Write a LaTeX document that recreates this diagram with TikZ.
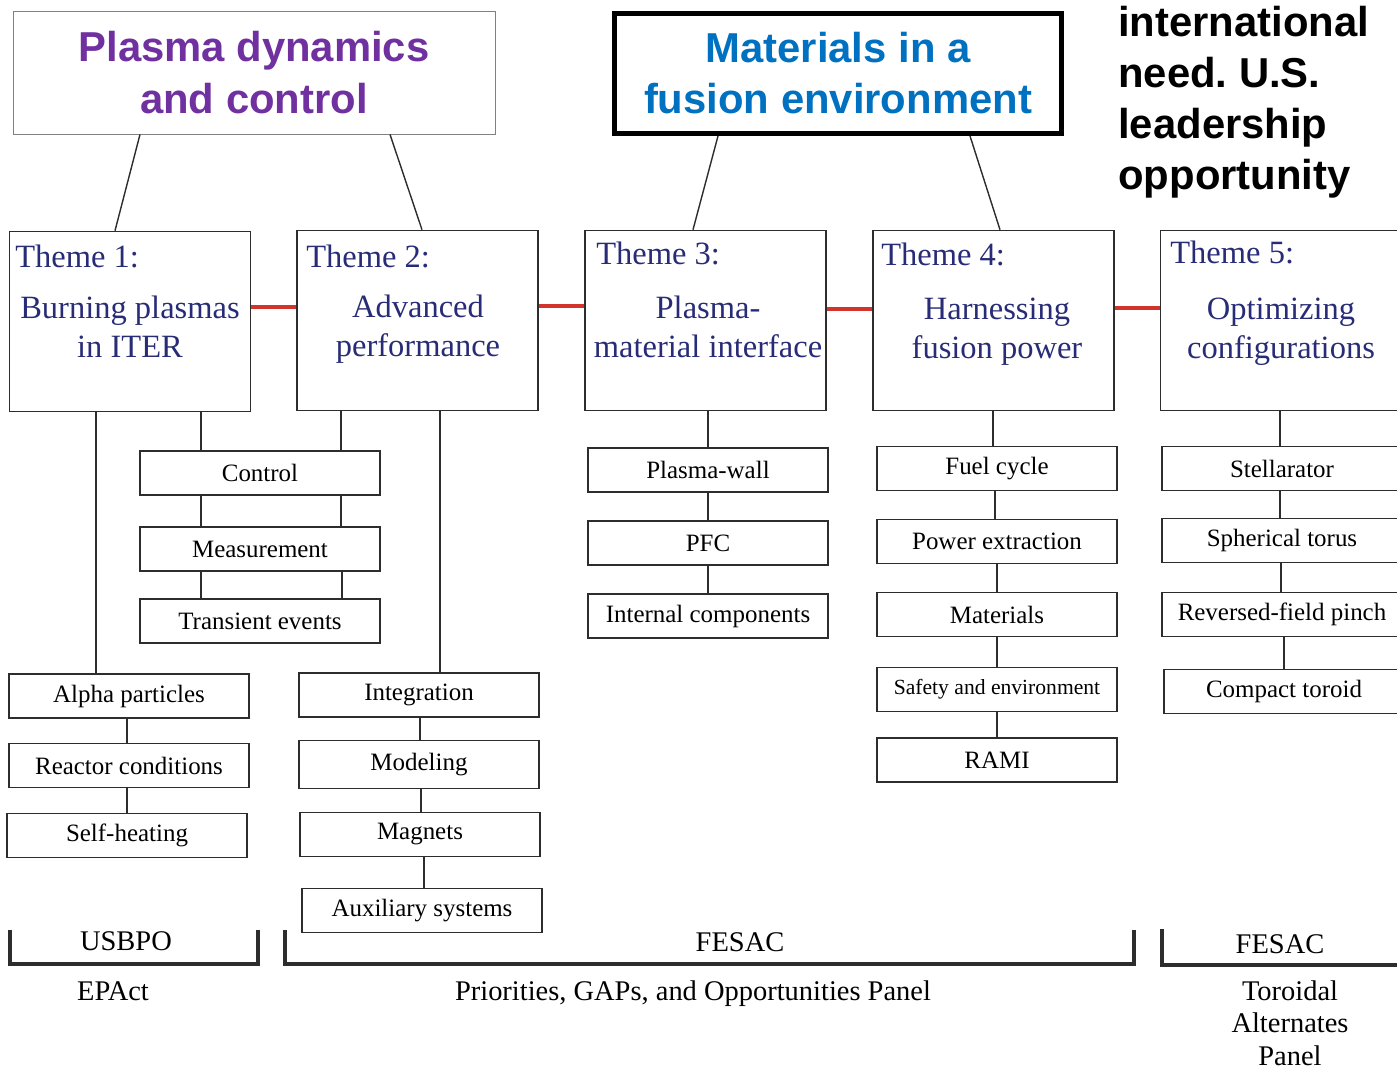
\documentclass[tikz,border=0pt]{standalone}
\usepackage{fontspec}
\setmainfont{Liberation Serif}
\newfontfamily\headfont{Liberation Sans}
\frenchspacing

\definecolor{purplehead}{RGB}{112,48,160}
\definecolor{bluehead}{RGB}{0,112,192}
\definecolor{themenavy}{RGB}{40,44,118}
\definecolor{linkred}{RGB}{210,52,44}
\definecolor{boxline}{RGB}{45,45,45}

\tikzset{
  themebox/.style={draw=boxline, line width=0.9pt, minimum width=4.82cm, minimum height=3.6cm, inner sep=0},
  themehead/.style={text=themenavy, font=\fontsize{18.5}{22}\selectfont, anchor=west, inner sep=0},
  themetext/.style={text=themenavy, font=\fontsize{18.5}{22}\selectfont, align=center, inner sep=0},
  itembox/.style={draw=boxline, line width=0.9pt, minimum width=4.8cm, minimum height=0.88cm, inner sep=0, font=\fontsize{14.2}{17}\selectfont},
  link/.style={draw=boxline, line width=0.8pt},
  redlink/.style={draw=linkred, line width=2.2pt},
  bracket/.style={draw=boxline, line width=2pt},
  panel/.style={font=\fontsize{16.2}{18.4}\selectfont, align=center, inner sep=0},
}

\begin{document}
\begin{tikzpicture}[x=0.02cm, y=-0.02cm]
\useasboundingbox (0,0) rectangle (1397,1069);

% headings on top
\node [draw=gray, line width=0.5pt, minimum width=9.64cm, minimum height=2.46cm, align=center, text=purplehead, font=\headfont\bfseries\fontsize{23.8}{29.5}\selectfont] (pdc) at (254,72.5) {Plasma dynamics\\and control} ;
\node [draw, line width=2.8pt, minimum width=8.94cm, minimum height=2.4cm, align=center, text=bluehead, font=\headfont\bfseries\fontsize{23.8}{29}\selectfont] (mfe) at (838,73.5) {Materials in a\\fusion environment} ;
\node [anchor=north west, align=left, inner sep=0, font=\headfont\bfseries\fontsize{23.8}{29}\selectfont] (need) at (1118,6) {international\\need. U.S.\\leadership\\opportunity} ;

% themes
\node [themebox] (t1) at (130,321.5) {} ;
\node [themebox] (t2) at (417.5,320.5) {} ;
\node [themebox] (t3) at (705.5,320.5) {} ;
\node [themebox] (t4) at (993.5,320.5) {} ;
\node [themebox] (t5) at (1281,320.5) {} ;

\node [themehead] (t1head) at (15,256) {Theme 1:} ;
\node [themehead] (t2head) at (306,256) {Theme 2:} ;
\node [themehead] (t3head) at (596,253) {Theme 3:} ;
\node [themehead] (t4head) at (881,254) {Theme 4:} ;
\node [themehead] (t5head) at (1170,252) {Theme 5:} ;

\node [themetext] (t1text) at (130,327) {Burning plasmas\\in ITER} ;
\node [themetext] (t2text) at (418,329) {Advanced\\performance} ;
\node [themetext] (t3text) at (708,327) {Plasma-\\material interface} ;
\node [themetext] (t4text) at (997,332) {Harnessing\\fusion power} ;
\node [themetext] (t5text) at (1281,332) {Optimizing\\configurations} ;

\draw [link] (pdc.south -| 140,0) to (t1.north -| 115,0) ;
\draw [link] (pdc.south -| 390,0) to (t2.north -| 422,0) ;
\draw [link] (mfe.south -| 718,0) to (t3.north -| 693,0) ;
\draw [link] (mfe.south -| 970,0) to (t4.north -| 1000,0) ;

\draw [redlink] (t1.east |- 0,307) to (t2.west |- 0,307) ;
\draw [redlink] (t2.east |- 0,306) to (t3.west |- 0,306) ;
\draw [redlink] (t3.east |- 0,309) to (t4.west |- 0,309) ;
\draw [redlink] (t4.east |- 0,308) to (t5.west |- 0,308) ;

% themes 1 and 2
\node [itembox] (ctrl) at (260,473) {Control} ;
\node [itembox] (meas) at (260,549) {Measurement} ;
\node [itembox] (trans) at (260,621) {Transient events} ;
\node [itembox] (alpha) at (129,696) {Alpha particles} ;
\node [itembox] (reactor) at (129,765.5) {Reactor conditions} ;
\node [itembox] (selfheat) at (127,835.5) {Self-heating} ;
\node [itembox] (integ) at (419,695) {Integration} ;
\node [itembox, minimum height=0.96cm] (model) at (419,764.5) {Modeling} ;
\node [itembox] (magnets) at (420,834.5) {Magnets} ;
\node [itembox] (aux) at (422,910.5) {Auxiliary systems} ;

\draw [link] (t1.south -| 201,0) to (ctrl.north -| 201,0) ;
\draw [link] (t2.south -| 341,0) to (ctrl.north -| 341,0) ;
\draw [link] (ctrl.south -| 201,0) to (meas.north -| 201,0) ;
\draw [link] (ctrl.south -| 341,0) to (meas.north -| 341,0) ;
\draw [link] (meas.south -| 201,0) to (trans.north -| 201,0) ;
\draw [link] (meas.south -| 342,0) to (trans.north -| 342,0) ;
\draw [link] (t1.south -| 96,0) to (alpha.north -| 96,0) ;
\draw [link] (alpha.south -| 127,0) to (reactor.north -| 127,0) ;
\draw [link] (reactor.south -| 127,0) to (selfheat.north -| 127,0) ;
\draw [link] (t2.south -| 440,0) to (integ.north -| 440,0) ;
\draw [link] (integ.south -| 420,0) to (model.north -| 420,0) ;
\draw [link] (model.south -| 421,0) to (magnets.north -| 421,0) ;
\draw [link] (magnets.south -| 424,0) to (aux.north -| 424,0) ;

% theme 3
\node [itembox] (pwall) at (708,470) {Plasma-wall} ;
\node [itembox] (pfc) at (708,543) {PFC} ;
\node [itembox] (intcomp) at (708,616) {Internal components} ;

\draw [link] (t3.south -| 708,0) to (pwall.north -| 708,0) ;
\draw [link] (pwall.south -| 708,0) to (pfc.north -| 708,0) ;
\draw [link] (pfc.south -| 708,0) to (intcomp.north -| 708,0) ;

% theme 4
\node [itembox] (fuel) at (997,468.5) {Fuel cycle} ;
\node [itembox] (power) at (997,541.5) {Power extraction} ;
\node [itembox] (mater) at (997,614.5) {Materials} ;
\node [itembox, font=\fontsize{12.3}{15}\selectfont] (safety) at (997,689.5) {Safety and environment} ;
\node [itembox] (rami) at (997,760) {RAMI} ;

\draw [link] (t4.south -| 993,0) to (fuel.north -| 993,0) ;
\draw [link] (fuel.south -| 995,0) to (power.north -| 995,0) ;
\draw [link] (power.south -| 997,0) to (mater.north -| 997,0) ;
\draw [link] (mater.south -| 997,0) to (safety.north -| 997,0) ;
\draw [link] (safety.south -| 997,0) to (rami.north -| 997,0) ;

% theme 5
\node [itembox] (stell) at (1282,468.5) {Stellarator} ;
\node [itembox] (sphtor) at (1282,540.5) {Spherical torus} ;
\node [itembox] (rfp) at (1282,614.5) {Reversed-field pinch} ;
\node [itembox] (ctor) at (1284,691.5) {Compact toroid} ;

\draw [link] (t5.south -| 1280,0) to (stell.north -| 1280,0) ;
\draw [link] (stell.south -| 1280,0) to (sphtor.north -| 1280,0) ;
\draw [link] (sphtor.south -| 1281,0) to (rfp.north -| 1281,0) ;
\draw [link] (rfp.south -| 1284,0) to (ctor.north -| 1284,0) ;

% panels below
\draw [bracket] (10,930) |- (258,964) -- (258,930) ;
\draw [bracket] (285,930) |- (1134,964) -- (1134,930) ;
\draw [bracket] (1162,929) |- (1400,965) ;

\node [panel] (usbpo) at (126,941) {USBPO} ;
\node [panel] (epact) at (113,991) {EPAct} ;
\node [panel] (fesac) at (740,942) {FESAC} ;
\node [panel] (pgop) at (693,994) {Priorities, GAPs, and Opportunities Panel} ;
\node [panel] (fesactwo) at (1280,944) {FESAC} ;
\node [panel] (tap) at (1290,1023) {Toroidal\\Alternates\\Panel} ;

\end{tikzpicture}
\end{document}
